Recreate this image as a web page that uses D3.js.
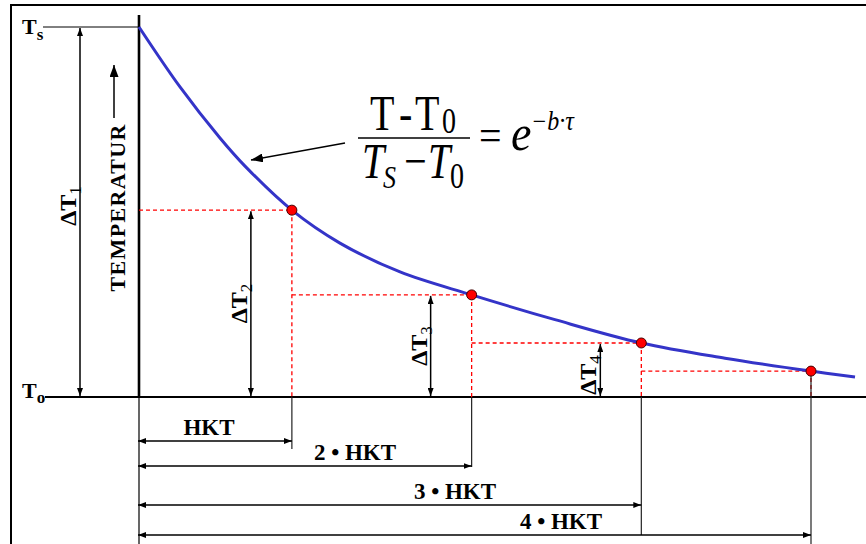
<!DOCTYPE html>
<html>
<head>
<meta charset="utf-8">
<script src="https://cdn.jsdelivr.net/npm/d3@7"></script>
<style>
  body { margin: 0; background: #fff; }
  svg { display: block; }
</style>
</head>
<body>
<svg id="chart"></svg>
<script>
// cooling curve: T0 = 0, Ts = 100, time in HKT units
const curveTime = [0, 0.244, 0.482, 0.631, 0.91, 1.196, 1.554, 1.98, 2.476, 2.99, 3.488, 4.0, 4.262];
const curveTemp = [100, 83.8, 70.0, 62.4, 50.5, 41.6, 33.8, 27.6, 20.9, 14.6, 10.5, 7.0, 5.4];

// the four marked points (one per HKT)
const markTime = [0.91, 1.98, 2.99, 4.0];
const markTemp = [50.5, 27.6, 14.6, 7.0];

const spanLabels = ["HKT", "2 • HKT", "3 • HKT", "4 • HKT"];
const deltaSubs = ["1", "2", "3", "4"];

const width = 866, height = 544;
const serif = "'Liberation Serif', 'Times New Roman', serif";

// layout of the dimension lines below the axis
const spanY = [441, 466, 505, 535];
const spanLabelX = [209, 355, 455, 561];

const svg = d3.select("#chart").attr("width", width).attr("height", height);

const x = d3.scaleLinear().domain([0, 4]).range([139, 811]);
const y = d3.scaleLinear().domain([0, 100]).range([397, 27]);

const defs = svg.append("defs");
defs.append("marker")
  .attr("id", "arr")
  .attr("markerUnits", "userSpaceOnUse")
  .attr("markerWidth", 8).attr("markerHeight", 6)
  .attr("refX", 8).attr("refY", 3)
  .attr("orient", "auto-start-reverse")
  .append("path").attr("d", "M0,0L8,3L0,6Z").attr("fill", "#000");
defs.append("marker")
  .attr("id", "bigArr")
  .attr("markerUnits", "userSpaceOnUse")
  .attr("markerWidth", 12).attr("markerHeight", 9)
  .attr("refX", 12).attr("refY", 4.5)
  .attr("orient", "auto-start-reverse")
  .append("path").attr("d", "M0,0L12,4.5L0,9Z").attr("fill", "#000");

// frame
svg.append("rect")
  .attr("x", 11).attr("y", 5)
  .attr("width", 880).attr("height", 580)
  .attr("fill", "none").attr("stroke", "#000").attr("stroke-width", 2);

// Ts reference line and axes
svg.append("line")
  .attr("x1", 43).attr("x2", x(0))
  .attr("y1", y(100)).attr("y2", y(100))
  .attr("stroke", "#000").attr("stroke-width", 1);
svg.append("line")
  .attr("x1", 45).attr("x2", width)
  .attr("y1", y(0)).attr("y2", y(0))
  .attr("stroke", "#000").attr("stroke-width", 2);
svg.append("line")
  .attr("x1", x(0)).attr("x2", x(0))
  .attr("y1", 15).attr("y2", y(0))
  .attr("stroke", "#000").attr("stroke-width", 2.6);
svg.append("line")
  .attr("x1", x(0)).attr("x2", x(0))
  .attr("y1", y(0)).attr("y2", height)
  .attr("stroke", "#000").attr("stroke-width", 1.2);

// red dashed helper lines
const guides = svg.append("g")
  .attr("stroke", "#f00").attr("stroke-width", 1.3)
  .attr("stroke-dasharray", "4,3").attr("fill", "none");
markTime.forEach((t, i) => {
  const x0 = i === 0 ? x(0) : x(markTime[i - 1]);
  guides.append("line")
    .attr("x1", x0).attr("x2", x(t))
    .attr("y1", y(markTemp[i])).attr("y2", y(markTemp[i]));
  guides.append("line")
    .attr("x1", x(t)).attr("x2", x(t))
    .attr("y1", y(markTemp[i])).attr("y2", y(0));
});

// thin black drop lines below the axis
const dropEnd = [spanY[0] + 8, spanY[1] + 1, spanY[3], height];
markTime.forEach((t, i) => {
  svg.append("line")
    .attr("x1", x(t)).attr("x2", x(t))
    .attr("y1", i === 3 ? y(markTemp[i]) : y(0)).attr("y2", dropEnd[i])
    .attr("stroke", "#222").attr("stroke-width", 1.2);
});

// the curve
const line = d3.line()
  .x(d => x(d))
  .y((d, i) => y(curveTemp[i]))
  .curve(d3.curveCatmullRom.alpha(0.5));
svg.append("path")
  .attr("d", line(curveTime))
  .attr("fill", "none")
  .attr("stroke", "#3434c8")
  .attr("stroke-width", 3);

svg.selectAll("circle.mark")
  .data(markTime)
  .join("circle")
  .attr("class", "mark")
  .attr("cx", d => x(d))
  .attr("cy", (d, i) => y(markTemp[i]))
  .attr("r", 5)
  .attr("fill", "#f00")
  .attr("stroke", "#400")
  .attr("stroke-width", 1);

// ΔT arrows
const deltaX = [x(0) - 59].concat(markTime.slice(0, 3).map(t => x(t) - 41));
const deltaTop = [100].concat(markTemp.slice(0, 3));
deltaSubs.forEach((s, i) => {
  const ax = deltaX[i];
  const y1 = y(deltaTop[i]), y2 = y(0);
  svg.append("line")
    .attr("x1", ax).attr("x2", ax)
    .attr("y1", y1 + 1).attr("y2", y2 - 1)
    .attr("stroke", "#000").attr("stroke-width", 1.5)
    .attr("marker-start", "url(#arr)")
    .attr("marker-end", "url(#arr)");
  const mid = (y1 + y2) / 2 + (i === 3 ? 5 : (i === 0 ? -6 : 0));
  const t = svg.append("text")
    .attr("transform", `translate(${ax - 4},${mid}) rotate(-90)`)
    .attr("text-anchor", "middle")
    .attr("font-family", serif);
  t.append("tspan").attr("font-size", 24).attr("font-weight", "bold").text("ΔT");
  t.append("tspan").attr("font-size", 17).attr("dy", 5).text(s);
});

// HKT dimension arrows
spanLabels.forEach((lab, i) => {
  svg.append("line")
    .attr("x1", x(0) - 1).attr("x2", x(markTime[i]))
    .attr("y1", spanY[i]).attr("y2", spanY[i])
    .attr("stroke", "#000").attr("stroke-width", 1.5)
    .attr("marker-start", "url(#arr)")
    .attr("marker-end", "url(#arr)");
  svg.append("text")
    .attr("x", spanLabelX[i]).attr("y", spanY[i] - 6)
    .attr("text-anchor", "middle")
    .attr("font-family", serif)
    .attr("font-size", 23).attr("font-weight", "bold")
    .text(lab);
});

// Ts / To labels
const ts = svg.append("text").attr("x", 22).attr("y", 34)
  .attr("font-family", serif).attr("font-weight", "bold");
ts.append("tspan").attr("font-size", 22).text("T");
ts.append("tspan").attr("font-size", 17).attr("dy", 6).text("s");
const to = svg.append("text").attr("x", 22).attr("y", 398)
  .attr("font-family", serif).attr("font-weight", "bold");
to.append("tspan").attr("font-size", 22).text("T");
to.append("tspan").attr("font-size", 17).attr("dy", 5).text("o");

// TEMPERATUR with arrow
svg.append("line")
  .attr("x1", 114).attr("x2", 114)
  .attr("y1", 118).attr("y2", 65)
  .attr("stroke", "#000").attr("stroke-width", 1.5)
  .attr("marker-end", "url(#bigArr)");
svg.append("text")
  .attr("transform", "translate(125,208) rotate(-90)")
  .attr("text-anchor", "middle")
  .attr("font-family", serif)
  .attr("font-size", 22).attr("font-weight", "bold")
  .attr("textLength", 167).attr("lengthAdjust", "spacing")
  .text("TEMPERATUR");

// formula and its pointer arrow
svg.append("line")
  .attr("x1", 345).attr("x2", 251)
  .attr("y1", 143).attr("y2", 160)
  .attr("stroke", "#000").attr("stroke-width", 1.6)
  .attr("marker-end", "url(#bigArr)");

const f = svg.append("g").attr("font-family", serif).attr("fill", "#000");
// one text per line of the formula, pieces placed with tspans (x relative to line start)
function formulaLine(px, py, sy, parts) {
  const t = f.append("text")
    .attr("transform", `translate(${px},${py}) scale(1,${sy})`);
  parts.forEach(p => {
    t.append("tspan")
      .attr("x", p.x).attr("y", p.y || 0)
      .attr("font-size", p.size)
      .attr("font-style", p.italic ? "italic" : "normal")
      .text(p.t);
  });
}
formulaLine(370, 130, 1.25, [
  { t: "T", x: 0, size: 40 },
  { t: "-", x: 29, size: 40 },
  { t: "T", x: 45, size: 40 },
  { t: "0", x: 72, y: 2, size: 28 }
]);
f.append("line")
  .attr("x1", 358).attr("x2", 470)
  .attr("y1", 138).attr("y2", 138)
  .attr("stroke", "#000").attr("stroke-width", 1.6);
formulaLine(362, 178, 1.25, [
  { t: "T", x: 0, size: 40, italic: true },
  { t: "S", x: 21, y: 8, size: 26, italic: true },
  { t: "\u2212", x: 42, size: 40 },
  { t: "T", x: 66, size: 40, italic: true },
  { t: "0", x: 88, y: 8, size: 28 }
]);
formulaLine(479, 150, 1.1, [
  { t: "=", x: 0, size: 40 },
  { t: "e", x: 32, size: 46, italic: true },
  { t: "\u2212b\u00b7\u03c4", x: 52, y: -18, size: 24, italic: true }
]);
</script>
</body>
</html>
